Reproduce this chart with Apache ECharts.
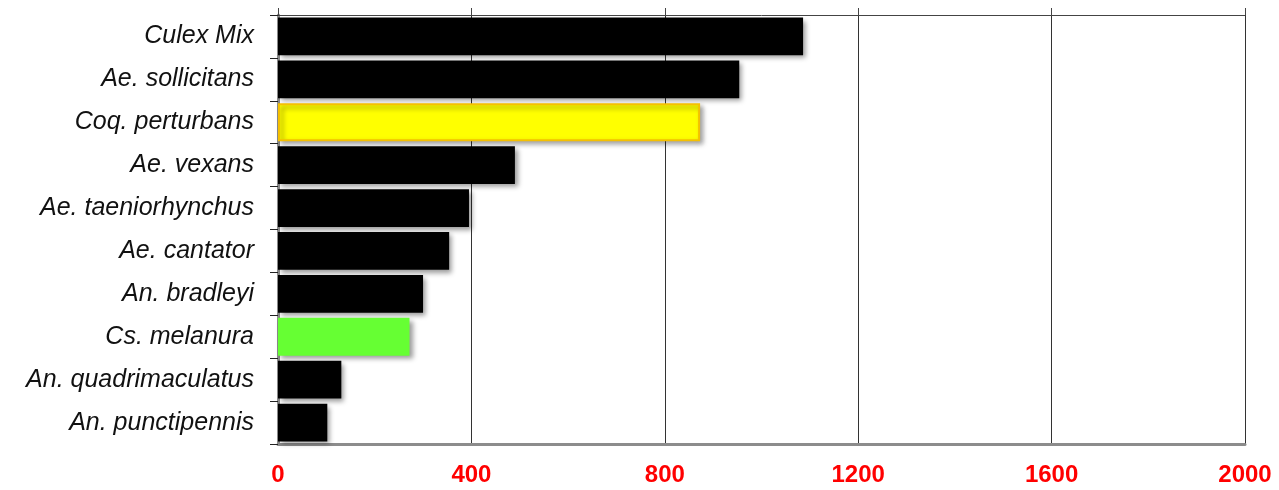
<!DOCTYPE html>
<html><head><meta charset="utf-8">
<script src="https://cdn.jsdelivr.net/npm/echarts@6/dist/echarts.min.js"></script>
<style>html,body{margin:0;padding:0;background:#fff}#c{width:1279px;height:490px}</style>
</head><body><div id="c"></div>
<script>
const categories = ["Culex Mix","Ae. sollicitans","Coq. perturbans","Ae. vexans","Ae. taeniorhynchus","Ae. cantator","An. bradleyi","Cs. melanura","An. quadrimaculatus","An. punctipennis"];
const values = [1086, 954, 873, 490, 395, 354, 300, 272, 131, 102];
const barColors = ["#000000","#000000","#ffff00","#000000","#000000","#000000","#000000","#66ff33","#000000","#000000"];
const barBorders = [null,null,"#f5c000",null,null,null,null,null,null,null];
const xTicks = [0,400,800,1200,1600,2000];

const chart = echarts.init(document.getElementById('c'));
const data = values.map((v,i)=>({
  value:v,
  itemStyle:{
    color:barColors[i],
    borderColor: barBorders[i] || barColors[i],
    borderWidth: barBorders[i] ? 2 : 0
  }
}));
chart.setOption({
  animation:false,
  grid:{left:278,right:34,top:15,bottom:46},
  xAxis:[{
    type:'value',position:'bottom',min:xTicks[0],max:xTicks[xTicks.length-1],interval:400,
    axisLine:{show:true,lineStyle:{color:'#8c8c8c',width:3}},
    axisTick:{show:false},
    axisLabel:{color:'#ff0000',fontWeight:'bold',fontSize:24,fontFamily:'Liberation Sans, Arial, sans-serif',margin:19,
      formatter:v=>String(v)},
    splitLine:{show:true,lineStyle:{color:'#333333',width:1}}
  },{
    type:'value',position:'top',min:xTicks[0],max:xTicks[xTicks.length-1],interval:400,
    axisLine:{show:true,lineStyle:{color:'#444444',width:1}},
    axisTick:{show:true,length:7,lineStyle:{color:'#444444'}},
    axisLabel:{show:false},splitLine:{show:false}
  }],
  yAxis:[{
    type:'category',data:categories,inverse:true,position:'left',
    axisLine:{show:true,lineStyle:{color:'#222222',width:1}},
    axisTick:{show:true,length:8,interval:0,lineStyle:{color:'#222222'}},
    axisLabel:{color:'#111111',fontStyle:'italic',fontSize:25,fontFamily:'Liberation Sans, Arial, sans-serif',margin:24,interval:0}
  },{
    type:'category',data:categories,inverse:true,position:'right',
    axisLine:{show:true,lineStyle:{color:'#8c8c8c',width:3}},
    axisTick:{show:false},axisLabel:{show:false}
  }],
  series:[{
    type:'bar',data:data,barCategoryGap:'12%',xAxisIndex:0,yAxisIndex:0,
    itemStyle:{shadowColor:'rgba(0,0,0,0.4)',shadowBlur:5,shadowOffsetX:3,shadowOffsetY:3}
  }]
});
</script></body></html>
